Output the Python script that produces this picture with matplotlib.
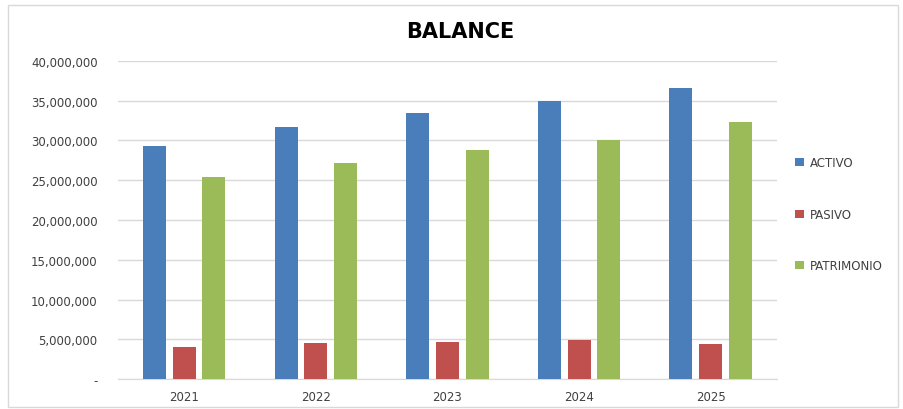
import numpy as np
import matplotlib
matplotlib.use("Agg")
import matplotlib.pyplot as plt
from matplotlib.patches import Rectangle
from matplotlib.ticker import FuncFormatter

#%% Data
years = ["2021", "2022", "2023", "2024", "2025"]
activo = [29_350_000, 31_700_000, 33_450_000, 34_900_000, 36_600_000]
pasivo = [4_050_000, 4_550_000, 4_650_000, 4_900_000, 4_350_000]
patrimonio = [25_350_000, 27_200_000, 28_800_000, 30_050_000, 32_300_000]

series = ["ACTIVO", "PASIVO", "PATRIMONIO"]
colors = ["#4a7ebb", "#c0504d", "#9bbb59"]

#%% Plot
plt.rcParams["font.family"] = ["Liberation Sans Narrow", "DejaVu Sans"]

fig = plt.figure(figsize=(9.04, 4.10), dpi=100)
fig.patch.set_facecolor("white")
ax = fig.add_axes([0.131, 0.073, 0.728, 0.776])

x = np.arange(len(years))
w = 0.175
step = 0.226
for k, (vals, lab, c) in enumerate(zip([activo, pasivo, patrimonio], series, colors)):
    ax.bar(x + (k - 1) * step, vals, width=w, color=c, label=lab, zorder=3)

ax.set_xlim(-0.5, len(years) - 0.5)
ax.set_ylim(0, 40_000_000)
ax.set_yticks(np.arange(0, 40_000_001, 5_000_000))
ax.yaxis.set_major_formatter(FuncFormatter(lambda v, p: "-" if v == 0 else f"{v:,.0f}"))
ax.set_xticks(x)
ax.set_xticklabels(years)
ax.grid(axis="y", color="#d9d9d9", linewidth=1, zorder=0)
for s in ["top", "right", "left"]:
    ax.spines[s].set_visible(False)
ax.spines["bottom"].set_color("#d9d9d9")
ax.tick_params(axis="both", length=0, labelsize=8.5, colors="#404040", pad=8)
ax.tick_params(axis="y", pad=15)

fig.text(0.509, 0.922, "BALANCE", ha="center", va="center",
         fontsize=15, fontweight="bold", color="black")

fig.legend(loc="upper left", bbox_to_anchor=(0.868, 0.642), frameon=False,
           fontsize=8.5, labelspacing=3.25, handlelength=0.7, handleheight=0.7,
           handletextpad=0.5, labelcolor="#404040")

fig.add_artist(Rectangle((8 / 904, 2 / 410), 890 / 904, 402 / 410,
                         transform=fig.transFigure, fill=False,
                         edgecolor="#d9d9d9", linewidth=1))

fig.savefig("out.png", dpi=100)
